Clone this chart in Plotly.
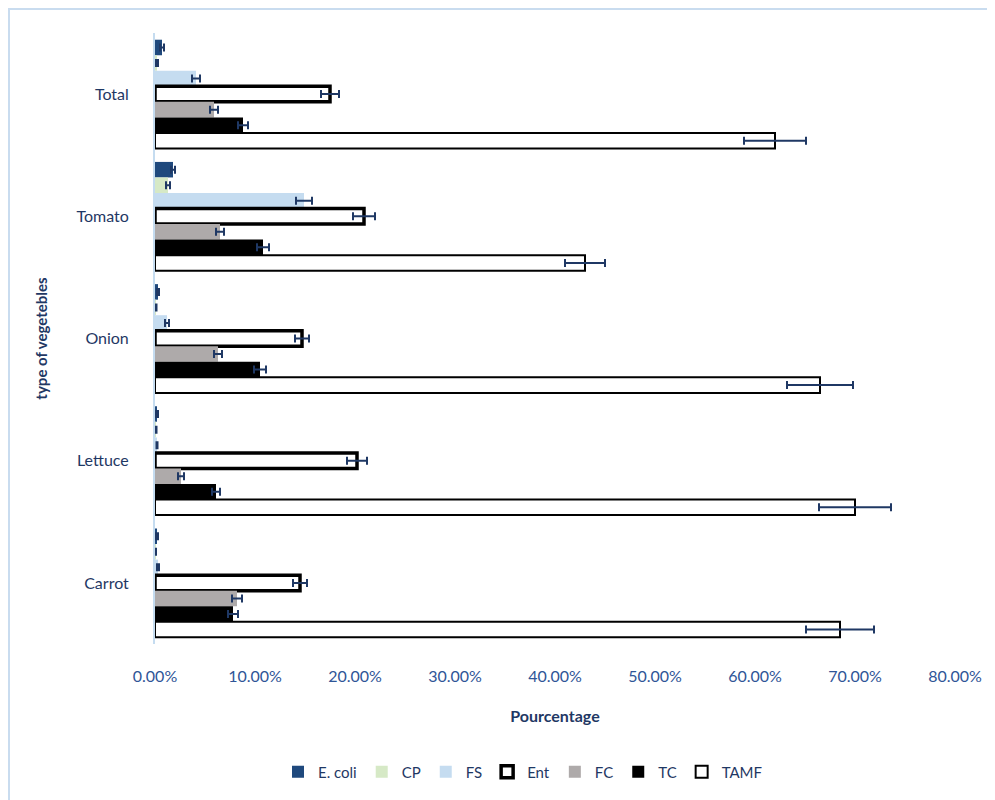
import plotly.graph_objects as go

categories = ["Total", "Tomato", "Onion", "Lettuce", "Carrot"]
series_names = ["E. coli", "CP", "FS", "Ent", "FC", "TC", "TAMF"]

ecoli = [0.7, 1.8, 0.3, 0.2, 0.2]
cp = [0.2, 1.3, 0.1, 0.1, 0.05]
fs = [4.1, 14.9, 1.2, 0.2, 0.3]
ent = [17.5, 20.9, 14.7, 20.2, 14.5]
fc = [5.9, 6.5, 6.3, 2.6, 8.2]
tc = [8.8, 10.8, 10.5, 6.1, 7.8]
tamf = [62.0, 43.0, 66.5, 70.0, 68.5]

ecoli_err = [0.2, 0.2, 0.1, 0.1, 0.1]
cp_err = [0.1, 0.2, 0.05, 0.05, 0.05]
fs_err = [0.4, 0.8, 0.2, 0.05, 0.1]
ent_err = [0.9, 1.1, 0.7, 1.0, 0.7]
fc_err = [0.4, 0.4, 0.4, 0.3, 0.5]
tc_err = [0.5, 0.6, 0.6, 0.4, 0.5]
tamf_err = [3.1, 2.0, 3.3, 3.6, 3.4]

tick_vals = [0, 10, 20, 30, 40, 50, 60, 70, 80]
tick_text = ["0.00%", "10.00%", "20.00%", "30.00%", "40.00%", "50.00%", "60.00%", "70.00%", "80.00%"]

values = [ecoli, cp, fs, ent, fc, tc, tamf]
errors = [ecoli_err, cp_err, fs_err, ent_err, fc_err, tc_err, tamf_err]
fills = ["#1f497d", "#d6e9c6", "#c5dcf0", "#ffffff", "#aeaaaa", "#000000", "#ffffff"]
lines = ["#1f497d", "#d6e9c6", "#c5dcf0", "#000000", "#aeaaaa", "#000000", "#000000"]
line_w = [0, 0, 0, 3.5, 0, 0, 2]

TXT = "#1f3864"
fig = go.Figure()
for name, v, e, f, lc, lw in zip(series_names, values, errors, fills, lines, line_w):
    fig.add_trace(go.Bar(
        name=name, y=categories, x=v, orientation="h",
        marker=dict(color=f, line=dict(color=lc, width=lw)),
        error_x=dict(type="data", array=e, color="#1f3864", thickness=2, width=4),
    ))

fig.update_layout(
    width=995, height=800,
    barmode="group", bargap=0.11, bargroupgap=0.0,
    plot_bgcolor="white", paper_bgcolor="white",
    font=dict(family="Lato", color=TXT, size=16),
    margin=dict(l=147, r=48, t=25, b=164),
    xaxis=dict(range=[0, 80], tickvals=tick_vals, ticktext=tick_text, automargin=False,
               showgrid=False, zeroline=False, showline=False, ticks="",
               tickfont=dict(size=16, color="#2f5597"), ticklabelstandoff=21,
               title=dict(text="<b>Pourcentage</b>", font=dict(size=16, color=TXT), standoff=26)),
    yaxis=dict(autorange="reversed", showgrid=False, zeroline=False, automargin=False,
               showline=True, linecolor="#c5dcf0", linewidth=2, ticks="",
               tickfont=dict(size=16, color=TXT), ticklabelstandoff=21,
               title=dict(text="<b>type of vegetebles</b>", font=dict(size=15, color=TXT), standoff=25)),
    legend=dict(orientation="h", x=0.46, xanchor="center", y=-0.2095, yanchor="middle",
                font=dict(size=15, color=TXT), itemwidth=30, traceorder="normal"),
    shapes=[dict(type="rect", xref="paper", yref="paper", x0=-0.1825, x1=1.1, y0=-0.3, y1=1.0393,
                 line=dict(color="#c9dcef", width=2), fillcolor="rgba(0,0,0,0)")],
)

fig.write_html("out.html")
